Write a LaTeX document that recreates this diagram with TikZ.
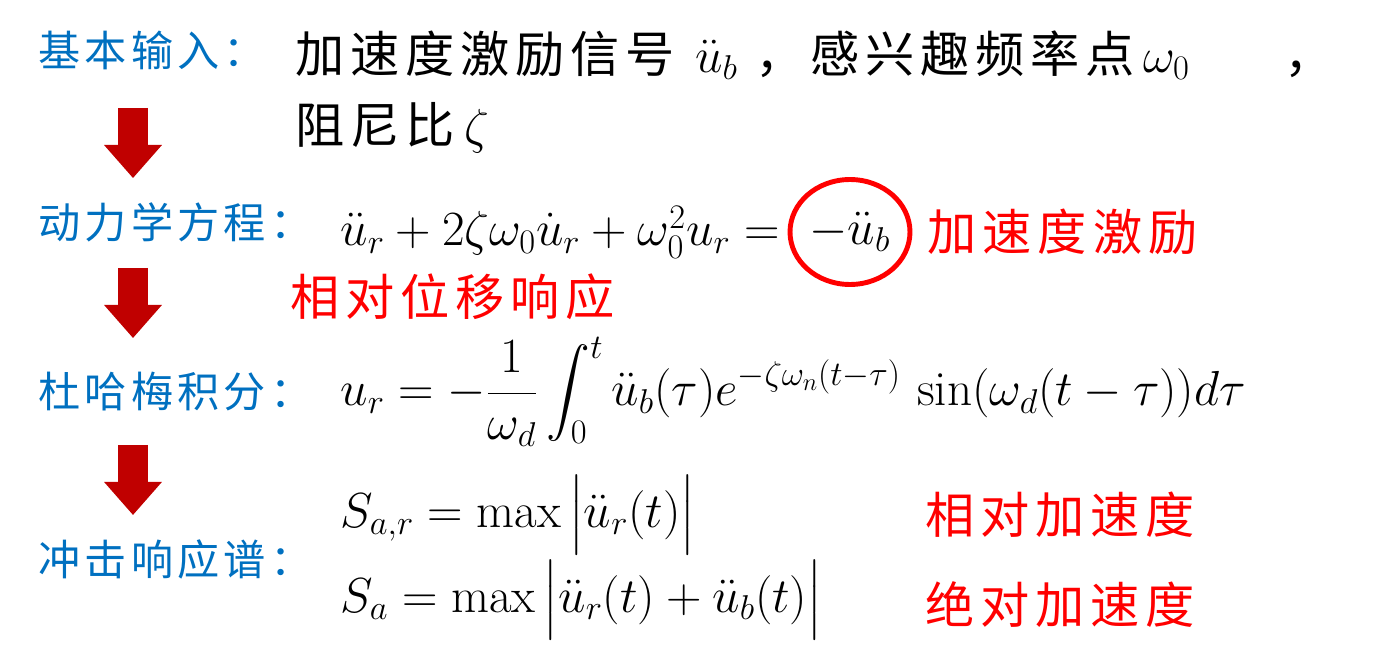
\RequirePackage{fix-cm}
\documentclass[tikz,border=0pt]{standalone}
\usepackage{amsmath}
\usepackage{fontspec}
\newfontfamily\cjkblue[LetterSpace=10]{Noto Sans CJK SC}
\newfontfamily\cjkwide[LetterSpace=12]{Noto Sans CJK SC}
\usetikzlibrary{positioning,calc,arrows.meta,shapes.geometric}
\definecolor{labelblue}{RGB}{0,112,192}
\definecolor{arrowred}{RGB}{192,0,0}
\tikzset{
    stage/.style={
           anchor=west,
           inner sep=0pt,
           text=labelblue,
           font=\cjkblue\fontsize{24}{28}\selectfont,
           },
    plain/.style={
           anchor=west,
           inner sep=0pt,
           text=black,
           font=\cjkwide\fontsize{28}{34}\selectfont,
           },
    remark/.style={
           plain,
           text=red,
           },
    formula/.style={
           anchor=west,
           inner sep=0pt,
           font=\fontsize{28}{34}\selectfont,
           },
    bigarrow/.style={
           arrowred,
           line width=0.6cm,
           -{Triangle[length=0.66cm 0 0,width=1.16cm 0 0,line width=0pt]},
           },
}

\begin{document}
\begin{tikzpicture}[x=0.02cm,y=-0.02cm]

 \useasboundingbox (0,0) rectangle (1373,672);

 % STAGE labels on the left (blue)
 \node[stage] (Input) at (38,50) {基本输入：};
 \node[stage,below=3.44cm of Input.west,anchor=west] (Dynamics) {动力学方程：};
 \node[stage,below=3.4cm of Dynamics.west,anchor=west] (Duhamel) {杜哈梅积分：};
 \node[stage,below=3.36cm of Duhamel.west,anchor=west] (Spectrum) {冲击响应谱：};

 % input text
 \node[plain] (Signal) at (295,55)
 {加速度激励信号\hspace{0.4cm}$\ddot{u}_b$\hspace{0.35cm}，感兴趣频率点\,$\omega_0$\hspace{1.9cm}，};
 \node[plain] (Damping) at (295,128) {阻尼比\hspace{0.2cm}$\zeta$};

 % equation of motion, excitation term circled
 \node[formula] (Motion) at (340,232)
 {$\ddot{u}_r + 2\zeta\omega_0\dot{u}_r + \omega_0^2 u_r =$};
 \node[formula,
  anchor=center,
  ellipse,
  draw=red,
  line width=2.8pt,
  minimum width=2.4cm,
  minimum height=2.1cm] (Excitation) at (850,232) {$-\ddot{u}_b$};
 \node[remark,right=0.3cm of Excitation] (ExcText) {加速度激励};
 \node[remark] (RelDisp) at (290,297) {相对位移响应};

 % Duhamel integral
 \node[formula] (Integral) at (340,392)
 {$\displaystyle u_r = -\frac{1}{\omega_d}\int_0^t \ddot{u}_b(\tau)e^{-\zeta\omega_n(t-\tau)}\,\sin(\omega_d(t-\tau))d\tau$};

 % shock response spectra
 \node[formula] (SRel) at (340,515) {$S_{a,r} = \max\big|\ddot{u}_r(t)\big|$};
 \node[formula] (SAbs) at (340,600) {$S_a = \max\big|\ddot{u}_r(t) + \ddot{u}_b(t)\big|$};
 \node[remark] (RelAcc) at (925,515) {相对加速度};
 \node[remark,below=1.8cm of RelAcc.west,anchor=west] (AbsAcc) {绝对加速度};

 % block arrows between the stages
 \draw[bigarrow] ($(Input.west)+(95,58)$) -- ($(Dynamics.west)+(95,-44)$);
 \draw[bigarrow] ($(Dynamics.west)+(95,46)$) -- ($(Duhamel.west)+(95,-54)$);
 \draw[bigarrow] ($(Duhamel.west)+(95,53)$) -- ($(Spectrum.west)+(95,-45)$);

\end{tikzpicture}
\end{document}
